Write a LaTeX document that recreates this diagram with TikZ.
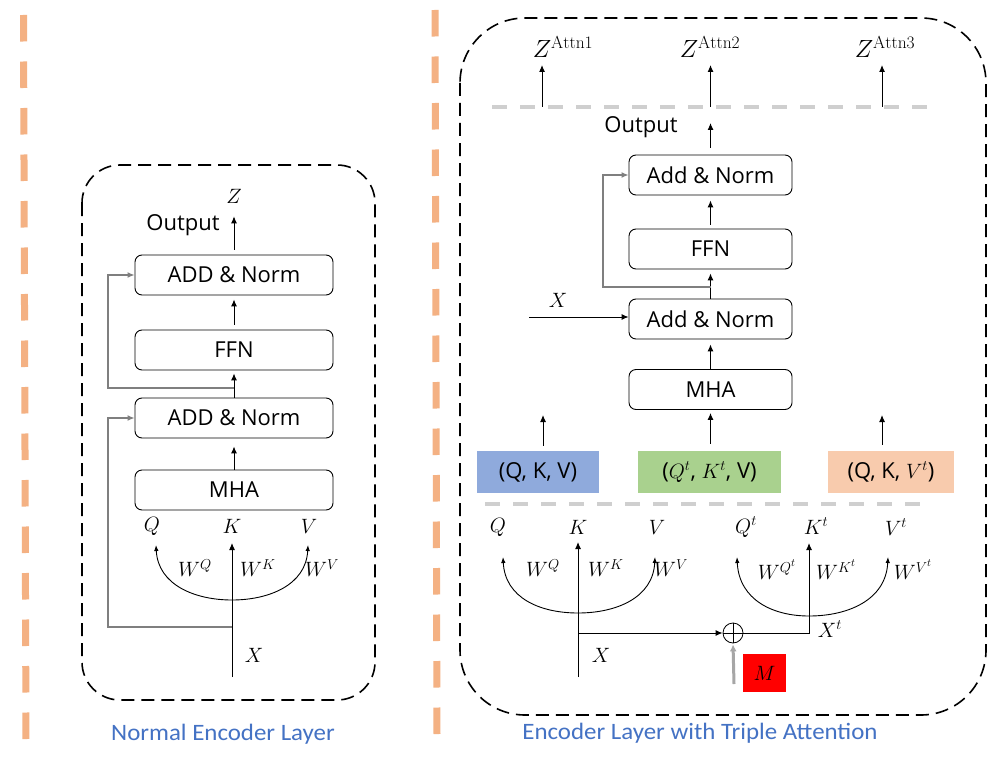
\documentclass[tikz,border=0pt]{standalone}
\usepackage{fontspec}
\setsansfont{Open Sans}
\newfontfamily\capfont[FakeStretch=1.06]{Carlito}
\usetikzlibrary{arrows.meta}
\definecolor{orng}{HTML}{F4B183}
\definecolor{bluebox}{HTML}{8FAADC}
\definecolor{greenbox}{HTML}{A9D18E}
\definecolor{peachbox}{HTML}{F8CBAD}
\definecolor{graydash}{HTML}{CFCFCF}
\definecolor{skipgray}{HTML}{7F7F7F}
\definecolor{capblue}{HTML}{4472C4}
\definecolor{mgray}{HTML}{A6A6A6}
\tikzset{
  blk/.style={draw, rounded corners=7pt, minimum height=40pt, inner sep=0pt, line width=0.9pt,
    font=\sffamily\fontsize{22}{26}\selectfont},
  lblk/.style={blk, minimum width=198pt},
  rblk/.style={blk, minimum width=163pt},
  cbox/.style={minimum height=42pt, inner sep=0pt, font=\sffamily\fontsize{22}{26}\selectfont},
  txt/.style={font=\sffamily\fontsize{22}{26}\selectfont, inner sep=0pt},
  mth/.style={font=\fontsize{21.5}{24}\selectfont, inner sep=0pt},
  zlbl/.style={font=\fontsize{25}{28}\selectfont, inner sep=0pt},
  arr/.style={-{Latex[length=7pt,width=6pt]}, line width=1pt},
  arcarr/.style={{Latex[length=6pt,width=4.5pt]}-{Latex[length=6pt,width=4.5pt]}, line width=0.9pt},
  skiparr/.style={-{Latex[length=7pt,width=6pt]}, line width=1.3pt, draw=skipgray},
  outerbox/.style={draw, line width=1.6pt, dash pattern=on 13pt off 7pt},
  orangedash/.style={draw=orng, line width=7pt, dash pattern=on 26.5pt off 20pt},
  graydashed/.style={draw=graydash, line width=4pt, dash pattern=on 15pt off 13pt},
  caption/.style={font=\capfont\fontsize{23.5}{28}\selectfont, text=capblue, inner sep=0pt}
}
\begin{document}
\begin{tikzpicture}[x=1pt,y=-1pt]
\useasboundingbox[fill=white] (0,0) rectangle (998,757);

% orange separators
\coordinate (o1a) at (23.5,15); \coordinate (o1b) at (26,740);
\coordinate (o2a) at (435,10); \coordinate (o2b) at (437,736);
\draw[orangedash] (o1a) -- (o1b);
\draw[orangedash] (o2a) -- (o2b);

% outer dashed boxes
\draw[outerbox, rounded corners=38pt] (82,165) rectangle (375,700);
\draw[outerbox, rounded corners=65pt] (460,18) rectangle (986,715);

% ================= LEFT =================
\node[lblk] (lA2) at (234,275) {ADD \& Norm};
\node[lblk] (lF)  at (234,350) {FFN};
\node[lblk] (lA1) at (234,418) {ADD \& Norm};
\node[lblk] (lM)  at (234,490) {MHA};
\node[txt] (lOut) at (183,225) {Output};
\node[mth] (lZ) at (234,196) {$Z$};
\draw[arr, shorten <=5pt, shorten >=13pt] (lA2.north) -- (lZ.south);
\draw[arr, shorten <=5pt, shorten >=4pt] (lF.north) -- (lA2.south);
\draw[arr, shorten >=3pt] (lA1.north) -- (lF.south);
\draw[arr, shorten >=8pt] (lM.north) -- (lA1.south);

\coordinate (ls1) at (234,388); \coordinate (lc1) at (108,388);
\draw[skiparr] (ls1) -- (lc1) |- (lA2.west);

\node[mth] (lQ) at (152,526) {$Q$};
\node[mth] (lK) at (232,526) {$K$};
\node[mth] (lV) at (309,526) {$V$};
\coordinate (lXb) at (232,677);
\coordinate (lKt) at (232,543);
\draw[arr] (lXb) -- (lKt);
\coordinate (lqa) at (156,545); \coordinate (lbot) at (232,600); \coordinate (lva) at (308,545);
\draw[arcarr] (lqa) .. controls (158,585) and (195,600) .. (lbot) .. controls (269,600) and (306,585) .. (lva);
\node[mth] (lWQ) at (195,568) {$W^Q$};
\node[mth] (lWK) at (258,568) {$W^K$};
\node[mth] (lWV) at (322,568) {$W^V$};
\coordinate (ls2) at (232,627); \coordinate (lc2) at (108,627);
\draw[skiparr] (ls2) -- (lc2) |- (lA1.west);
\node[mth] (lX) at (254,655) {$X$};

\node[caption] (cap1) at (223,734) {Normal Encoder Layer};

% ================= RIGHT =================
\node[zlbl] (za1) at (563,47) {$Z^{\mathrm{Attn1}}$};
\node[zlbl] (za2) at (710,47) {$Z^{\mathrm{Attn2}}$};
\node[zlbl] (za3) at (885,47) {$Z^{\mathrm{Attn3}}$};
\coordinate (d1a) at (492,107); \coordinate (d1b) at (927,107);
\draw[graydashed] (d1a) -- (d1b);
\coordinate (z1b) at (542,107); \coordinate (z1t) at (542,65);
\coordinate (z2b) at (710.5,107); \coordinate (z2t) at (710.5,65);
\coordinate (z3b) at (882,107); \coordinate (z3t) at (882,65);
\draw[arr] (z1b) -- (z1t);
\draw[arr] (z2b) -- (z2t);
\draw[arr] (z3b) -- (z3t);

\node[rblk] (rA2) at (710.5,175) {Add \& Norm};
\node[rblk] (rF)  at (710.5,249) {FFN};
\node[rblk] (rA1) at (710.5,319) {Add \& Norm};
\node[rblk] (rM)  at (710.5,389.5) {MHA};
\node[txt] (rOut) at (641,127) {Output};
\coordinate (rOt) at (710.5,123);
\draw[arr, shorten <=7pt] (rA2.north) -- (rOt);
\draw[arr, shorten <=4pt, shorten >=5pt] (rF.north) -- (rA2.south);
\draw[arr, shorten >=4pt] (rA1.north) -- (rF.south);
\draw[arr, shorten >=5pt] (rM.north) -- (rA1.south);
\coordinate (rs1) at (710.5,287); \coordinate (rc1) at (603,287);
\draw[skiparr] (rs1) -- (rc1) |- (rA2.west);
\coordinate (rXs) at (529,317);
\draw[arr] (rXs) -- (rXs -| rA1.west);
\node[mth] (rX0) at (558,300) {$X$};

\node[cbox, fill=bluebox, minimum width=122pt] (bq) at (538,472) {(Q, K, V)};
\node[cbox, fill=greenbox, minimum width=143pt] (bg) at (709.5,472) {($Q^t$, $K^t$, V)};
\node[cbox, fill=peachbox, minimum width=126pt] (bp) at (891,472) {(Q, K, $V^t$)};
\coordinate (bqt) at (543,415); \coordinate (bpt) at (882,415);
\draw[arr, shorten <=5pt] (bq.north -| bqt) -- (bqt);
\draw[arr, shorten <=7pt, shorten >=3pt] (bg.north -| rM.south) -- (rM.south);
\draw[arr, shorten <=6pt] (bp.north -| bpt) -- (bpt);
\coordinate (d2a) at (485,504); \coordinate (d2b) at (920,504);
\draw[graydashed] (d2a) -- (d2b);

\node[mth] (rQ) at (498,527) {$Q$};
\node[mth] (rK) at (578,527) {$K$};
\node[mth] (rV) at (657,527) {$V$};
\node[mth] (rQt) at (746,527) {$Q^t$};
\node[mth] (rKt) at (816,526) {$K^t$};
\node[mth] (rVt) at (896,527) {$V^t$};

\coordinate (rXb) at (578,677); \coordinate (rKtip) at (578,542);
\draw[arr] (rXb) -- (rKtip);
\coordinate (rqa) at (503,557); \coordinate (rbot) at (578,613); \coordinate (rva) at (655,557);
\draw[arcarr] (rqa) .. controls (505,598) and (540,613) .. (rbot) .. controls (616,613) and (653,598) .. (rva);
\node[mth] (rWQ) at (543,568) {$W^Q$};
\node[mth] (rWK) at (606,568) {$W^K$};
\node[mth] (rWV) at (671,568) {$W^V$};

\node[draw, circle, minimum size=20pt, inner sep=0pt, line width=0.8pt] (pl) at (733,633) {};
\draw[line width=0.7pt] (pl.north) -- (pl.south) (pl.west) -- (pl.east);
\coordinate (rXm) at (578,633);
\draw[arr] (rXm) -- (pl.west);
\coordinate (rkc) at (809,633); \coordinate (rkt) at (809,543);
\draw[arr] (pl.east) -- (rkc) -- (rkt);
\coordinate (rqta) at (737,557); \coordinate (rbot2) at (809,616); \coordinate (rvta) at (888,557);
\draw[arcarr] (rqta) .. controls (739,600) and (773,616) .. (rbot2) .. controls (848,616) and (886,600) .. (rvta);
\node[mth] (rWQt) at (777,570) {$W^{Q^t}$};
\node[mth] (rWKt) at (836,570) {$W^{K^t}$};
\node[mth] (rWVt) at (913,570) {$W^{V^t}$};
\node[mth] (rXt) at (830,629) {$X^t$};
\node[mth] (rX) at (601,655) {$X$};

\node[fill=red, minimum width=43pt, minimum height=38pt, inner sep=0pt, font=\fontsize{21.5}{24}\selectfont] (mb) at (764.5,673) {$M$};
\coordinate (mg) at (734,684);
\draw[-{Latex[length=7pt,width=7pt]}, draw=mgray, fill=mgray, line width=3pt, shorten >=1pt] (mg) -- (pl.south);

\node[caption] (cap2) at (700,733) {Encoder Layer with Triple Attention};
\end{tikzpicture}
\end{document}
